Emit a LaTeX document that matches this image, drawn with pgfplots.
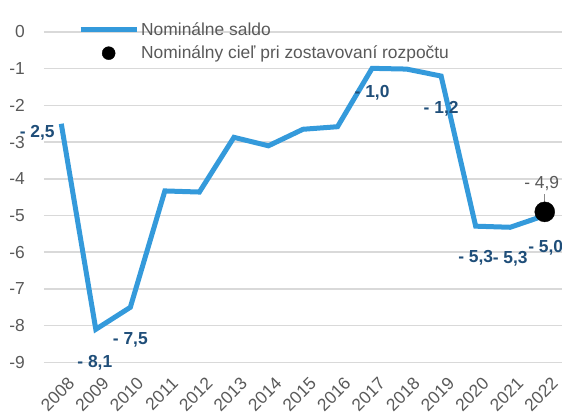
\documentclass[border=0pt]{standalone}
\usepackage{pgfplots}
\pgfplotsset{compat=1.18}
\usepackage{pgfplotstable}
\usepackage{fontspec}
\setmainfont{Liberation Sans}
\definecolor{lineblue}{RGB}{52,154,219}
\definecolor{lblblue}{RGB}{31,78,121}
\definecolor{txtgray}{RGB}{89,89,89}
\definecolor{gridgray}{RGB}{217,217,217}

\pgfplotstableread{
x y
0 -2.50
1 -8.10
2 -7.50
3 -4.33
4 -4.36
5 -2.87
6 -3.10
7 -2.65
8 -2.58
9 -0.99
10 -1.01
11 -1.20
12 -5.29
13 -5.32
14 -5.00
}\saldo

\pgfplotstableread{
x y lab dx dy
0 -2.50 {- 2,5} -24 -9
1 -8.10 {- 8,1} -1 -33
2 -7.50 {- 7,5} 0 -33
9 -0.99 {- 1,0} 0 -24
11 -1.20 {- 1,2} 0 -33
12 -5.29 {- 5,3} 0 -32
13 -5.32 {- 5,3} 0 -31
14 -5.00 {- 5,0} 1 -32
}\labels

\begin{document}
\begin{tikzpicture}
\begin{axis}[
  scale only axis,
  width=518pt, height=373pt,
  xmin=-0.5, xmax=14.5,
  ymin=-9.29, ymax=0.872,
  axis line style={draw=none},
  clip=false,
  xtick={0,...,14},
  xticklabels={2008,2009,2010,2011,2012,2013,2014,2015,2016,2017,2018,2019,2020,2021,2022},
  ytick={0,-1,-2,-3,-4,-5,-6,-7,-8,-9},
  yticklabels={0,-1,-2,-3,-4,-5,-6,-7,-8,-9},
  major tick length=0pt,
  tick style={draw=none},
  ymajorgrids,
  grid style={gridgray, line width=1.5pt},
  tick label style={font=\fontsize{17.4}{20}\selectfont, text=txtgray},
  xticklabel style={rotate=45, anchor=north east, inner sep=0pt, xshift=2pt, yshift=-6pt},
  yticklabel style={anchor=east, inner sep=0pt, xshift=-19pt},
  legend style={at={(rel axis cs:0.0656,0.945)}, anchor=north west, draw=none, fill=none,
    font=\fontsize{17.4}{20}\selectfont, text=txtgray, inner sep=0pt, row sep=5pt},
  legend cell align=left,
]
\addplot[lineblue, line width=5pt, mark=none,
  legend image code/.code={\draw[lineblue, line width=5pt] (0pt,0pt) -- (56pt,0pt);}]
  table[x=x, y=y] {\saldo};
\addlegendentry{Nominálne saldo}

\addplot[only marks, mark=*, mark size=10pt, black,
  legend image code/.code={\fill[black] (28pt,0pt) circle (6.5pt);},
  nodes near coords, point meta=explicit symbolic,
  nodes near coords style={anchor=center, yshift=28pt, xshift=-3pt,
    font=\fontsize{17.4}{20}\selectfont, text=txtgray}]
  coordinates {(14,-4.9) [{- 4,9}]};
\addlegendentry{Nominálny cieľ pri zostavovaní rozpočtu}

\addplot[draw=none, mark=none, forget plot,
  nodes near coords, point meta=explicit symbolic,
  visualization depends on={\thisrow{dx} \as \dx},
  visualization depends on={\thisrow{dy} \as \dy},
  nodes near coords style={anchor=center, xshift=\dx pt, yshift=\dy pt,
    font=\fontsize{17.4}{20}\selectfont\bfseries, text=lblblue}]
  table[x=x, y=y, meta=lab] {\labels};

\draw[txtgray!70, line width=0.8pt] (axis cs:14,-4.9) ++(0pt,10pt) -- ++(0pt,8pt);
\end{axis}
\pgfresetboundingbox
\path ([xshift=-44pt, yshift=-44pt]current axis.south west) rectangle (current axis.north east);
\end{tikzpicture}
\end{document}
